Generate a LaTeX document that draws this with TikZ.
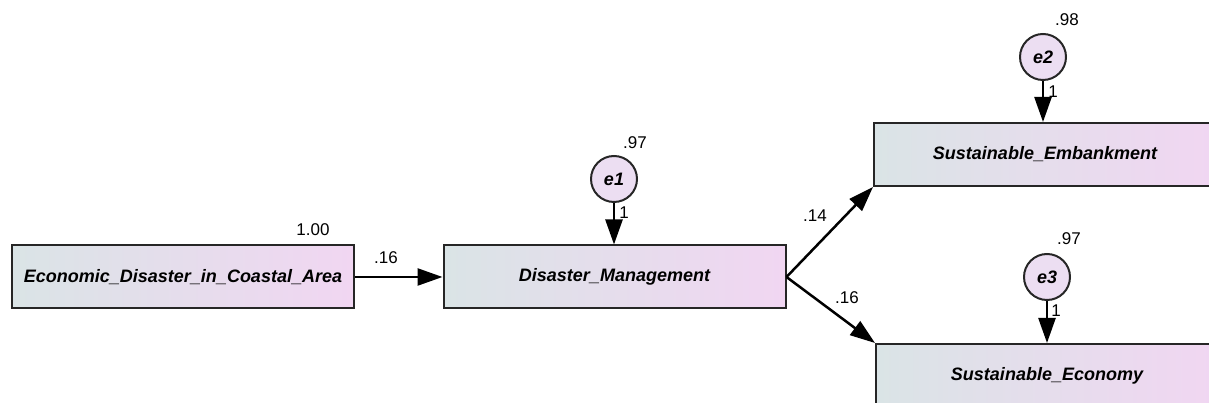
\documentclass[tikz,border=0pt]{standalone}
\usepackage{fontspec}
\setmainfont{Liberation Sans}
\usetikzlibrary{arrows.meta}

\definecolor{boxleft}{RGB}{218,228,230}
\definecolor{boxmid}{RGB}{232,220,238}
\definecolor{boxright}{RGB}{241,214,242}
\definecolor{errfill}{RGB}{236,222,242}

\begin{document}
\begin{tikzpicture}[
  x=1pt,y=1pt,
  >={Triangle[length=25pt,width=17pt]},
  var/.style={draw=black!85, line width=2pt, left color=boxleft, middle color=boxmid,
    right color=boxright, minimum width=342pt, minimum height=63pt, inner sep=0pt,
    font=\fontsize{18}{20}\selectfont\bfseries\itshape},
  err/.style={circle, draw=black!85, line width=2pt, fill=errfill, minimum size=46pt,
    inner sep=0pt, font=\fontsize{18}{20}\selectfont\bfseries\itshape},
  reg/.style={->, draw=black, line width=2.5pt},
  est/.style={font=\fontsize{17}{19}\selectfont}
]
\useasboundingbox (0,0) rectangle (1209,403);

% Observed variables
\node[var] (eco)  at (183,126)    {Economic\_Disaster\_in\_Coastal\_Area};
\node[var] (mgmt) at (614.5,126)  {Disaster\_Management};
\node[var] (emb)  at (1045,248.5) {Sustainable\_Embankment};
\node[var] (econ) at (1047,27.5)  {Sustainable\_Economy};

% Error terms
\node[err] (e1) at (614,224)  {e1};
\node[err] (e2) at (1043,346) {e2};
\node[err] (e3) at (1047,126) {e3};

% Paths
\draw[reg] (eco.east) -- (mgmt.west);
\draw[reg] (mgmt.east) -- (emb.south west);
\draw[reg] (mgmt.east) -- (econ.north west);
\draw[reg] (e1) -- (e1 |- mgmt.north);
\draw[reg] (e2) -- (e2 |- emb.north);
\draw[reg] (e3) -- (e3 |- econ.north);

% Estimates
\node[est] (v0)  at (313,173)  {1.00};
\node[est] (b1)  at (386,145)  {.16};
\node[est] (v1)  at (635,260)  {.97};
\node[est] (w1)  at (624,190)  {1};
\node[est] (b2)  at (815,187)  {.14};
\node[est] (b3)  at (847,105)  {.16};
\node[est] (v2)  at (1067,383) {.98};
\node[est] (w2)  at (1053,311) {1};
\node[est] (v3)  at (1069,164) {.97};
\node[est] (w3)  at (1056,92)  {1};

\end{tikzpicture}
\end{document}
